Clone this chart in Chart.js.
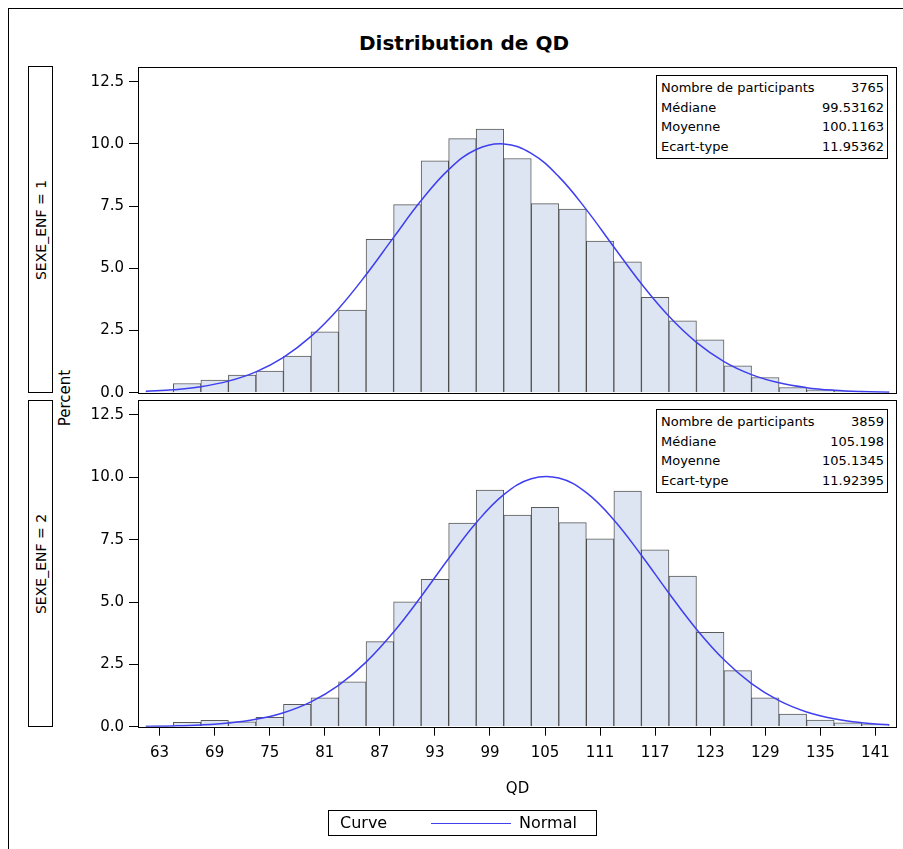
<!DOCTYPE html>
<html>
<head>
<meta charset="utf-8">
<script src="https://cdn.jsdelivr.net/npm/chart.js@4"></script>
<style>
  body { margin: 0; background: #fff; font-family: 'DejaVu Sans', sans-serif; }
  #page { position: relative; width: 903px; height: 849px; overflow: hidden; }
  .abs { position: absolute; }
  #frame { left: 8px; top: 8px; width: 903px; height: 849px; border: 1px solid #000; }
  #title { left: 0; width: 928px; top: 31px; text-align: center; font-weight: bold; font-size: 20px; }
  .strip { left: 28px; width: 23px; border: 1px solid #000; }
  .strip span { position: absolute; left: 50%; top: 50%; transform: translate(-50%, -50%) rotate(-90deg); white-space: nowrap; font-size: 14px; }
  #percent { left: 65px; top: 398px; transform: translate(-50%, -50%) rotate(-90deg); font-size: 15px; }
  .stats { left: 656px; width: 230px; border: 1px solid #000; background: #fff; padding: 2px 0; font-size: 13px; }
  .stats div { display: flex; justify-content: space-between; height: 19.5px; line-height: 19.5px; padding: 0 3px 0 4px; }
  #legend { left: 328px; top: 810px; width: 267px; height: 24px; border: 1px solid #000; font-size: 16px; }
  #legend span { position: absolute; top: 2px; }
  #legend i { position: absolute; left: 102px; top: 12px; width: 80px; border-top: 1px solid #3f3ff0; }
  canvas { position: absolute; left: 0; }
</style>
</head>
<body>
<div id="page">
  <div id="frame" class="abs"></div>
  <div id="title" class="abs">Distribution de QD</div>
  <div class="abs strip" style="top:66px;height:325px"><span>SEXE_ENF = 1</span></div>
  <div class="abs strip" style="top:400px;height:325px"><span>SEXE_ENF = 2</span></div>
  <div id="percent" class="abs">Percent</div>
  <canvas id="top" width="903" height="340" style="top:60px"></canvas>
  <canvas id="bottom" width="903" height="449" style="top:400px"></canvas>
  <div class="abs stats" id="stats1" style="top:75px"></div>
  <div class="abs stats" id="stats2" style="top:409px"></div>
  <div id="legend" class="abs"><span style="left:11px">Curve</span><i></i><span style="left:190px">Normal</span></div>
</div>
<script>
// histogram bins (QD), percent per bin for each SEXE_ENF group
const binCenters = [63, 66, 69, 72, 75, 78, 81, 84, 87, 90, 93, 96, 99, 102, 105, 108, 111, 114, 117, 120, 123, 126, 129, 132, 135, 138, 141];
const pctSexe1 = [0.03, 0.37, 0.51, 0.71, 0.87, 1.47, 2.45, 3.32, 6.16, 7.56, 9.32, 10.21, 10.59, 9.41, 7.60, 7.38, 6.09, 5.26, 3.83, 2.89, 2.12, 1.08, 0.61, 0.21, 0.12, 0.06, 0.03];
const pctSexe2 = [0.03, 0.18, 0.26, 0.20, 0.38, 0.90, 1.16, 1.80, 3.41, 5.01, 5.91, 8.16, 9.49, 8.49, 8.80, 8.18, 7.53, 9.45, 7.09, 6.04, 3.78, 2.25, 1.16, 0.51, 0.27, 0.16, 0.08];

// fitted normal curve, read at bin edges
const curveX = [61.5, 64.5, 67.5, 70.5, 73.5, 76.5, 79.5, 82.5, 85.5, 88.5, 91.5, 94.5, 97.5, 100.5, 103.5, 106.5, 109.5, 112.5, 115.5, 118.5, 121.5, 124.5, 127.5, 130.5, 133.5, 136.5, 139.5, 142.5];
const normal1 = [0.054, 0.118, 0.242, 0.465, 0.839, 1.422, 2.262, 3.378, 4.739, 6.241, 7.720, 8.965, 9.774, 9.997, 9.619, 8.683, 7.358, 5.857, 4.375, 3.070, 2.023, 1.251, 0.727, 0.396, 0.203, 0.098, 0.044, 0.019];
const normal2 = [0.012, 0.030, 0.069, 0.148, 0.298, 0.562, 0.997, 1.657, 2.589, 3.795, 5.222, 6.746, 8.179, 9.308, 9.944, 9.971, 9.385, 8.292, 6.877, 5.353, 3.911, 2.683, 1.727, 1.044, 0.592, 0.315, 0.158, 0.074];

const xTicks = [63, 69, 75, 81, 87, 93, 99, 105, 111, 117, 123, 129, 135, 141];
const yTicks = [0, 2.5, 5, 7.5, 10, 12.5];

const statLabels = ['Nombre de participants', 'Médiane', 'Moyenne', 'Ecart-type'];
const stats1 = ['3765', '99.53162', '100.1163', '11.95362'];
const stats2 = ['3859', '105.198', '105.1345', '11.92395'];

function fillStats(id, vals) {
  document.getElementById(id).innerHTML = statLabels
    .map((l, i) => `<div><span>${l}</span><span>${vals[i]}</span></div>`).join('');
}
fillStats('stats1', stats1);
fillStats('stats2', stats2);

const tickFont = { family: 'DejaVu Sans', size: 15 };

const frame = {
  id: 'frame',
  afterDraw(chart) {
    const { ctx, chartArea: a } = chart;
    ctx.save();
    ctx.strokeStyle = '#000';
    ctx.lineWidth = 1;
    ctx.strokeRect(Math.round(a.left) + 0.5, Math.round(a.top) + 0.5, Math.round(a.right - a.left) - 1, Math.round(a.bottom - a.top));
    ctx.restore();
  }
};

function makePanel(canvasId, pct, curve, showX, padding) {
  new Chart(document.getElementById(canvasId), {
    data: {
      datasets: [{
        type: 'line',
        data: curveX.map((x, i) => ({ x, y: curve[i] })),
        borderColor: '#3f3ff0',
        borderWidth: 1.5,
        pointRadius: 0,
        tension: 0.4,
        fill: false,
      }, {
        type: 'bar',
        data: binCenters.map((x, i) => ({ x, y: pct[i] })),
        backgroundColor: '#dce5f1',
        borderColor: 'rgba(50,50,50,0.8)',
        borderWidth: 1,
        barPercentage: 1,
        categoryPercentage: 1,
      }]
    },
    options: {
      responsive: false, devicePixelRatio: 1, animation: false,
      layout: { padding },
      plugins: { legend: { display: false }, tooltip: { enabled: false } },
      scales: {
        x: {
          type: 'linear', min: 60.65, max: 143.35, offset: false,
          display: showX,
          afterBuildTicks: s => { s.ticks = xTicks.map(v => ({ value: v })); },
          afterFit: s => {
            if (showX) s.height = 75;
            s.paddingLeft = 0; s.paddingRight = 0;
          },
          grid: { drawOnChartArea: false, tickLength: 9, color: '#000', offset: false },
          border: { display: false },
          ticks: { font: tickFont, color: '#000', padding: 8, maxRotation: 0 },
          title: { display: true, text: 'QD', font: { family: 'DejaVu Sans', size: 15 }, color: '#000', padding: { top: 0, bottom: 4 } }
        },
        y: {
          min: 0, max: 13.1,
          afterBuildTicks: s => { s.ticks = yTicks.map(v => ({ value: v })); },
          afterFit: s => { s.width = 138; s.paddingTop = 0; s.paddingBottom = 0; },
          grid: { drawOnChartArea: false, tickLength: 9, color: '#000' },
          border: { display: false },
          ticks: { font: tickFont, color: '#000', padding: 5, callback: v => v.toFixed(1) }
        }
      }
    },
    plugins: [frame]
  });
}

makePanel('top', pctSexe1, normal1, false, { top: 6.7, right: 6, bottom: 7.3, left: 0 });
makePanel('bottom', pctSexe2, normal2, true, { top: 0, right: 6, bottom: 47.3, left: 0 });
</script>
</body>
</html>
